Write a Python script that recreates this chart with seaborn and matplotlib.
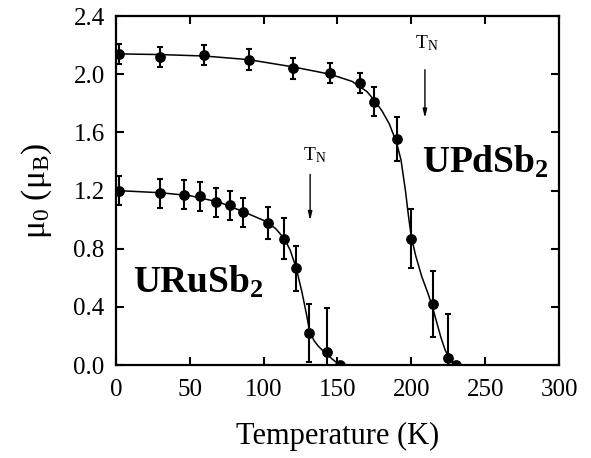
import matplotlib
matplotlib.use("Agg")
import matplotlib.pyplot as plt
import seaborn as sns

# ---- data ----
uru_T = [2, 30, 46, 57, 68, 77, 86, 103, 114, 122, 131, 143, 152]
uru_mu = [1.20, 1.18, 1.17, 1.16, 1.12, 1.10, 1.05, 0.98, 0.87, 0.665, 0.22, 0.09, 0.0]
uru_err = [0.10, 0.10, 0.10, 0.10, 0.10, 0.10, 0.10, 0.11, 0.14, 0.155, 0.20, 0.30, 0.0]

upd_T = [2, 30, 60, 90, 120, 145, 165, 175, 190, 200, 215, 225, 230]
upd_mu = [2.14, 2.12, 2.13, 2.10, 2.04, 2.01, 1.94, 1.81, 1.555, 0.87, 0.42, 0.05, 0.0]
upd_err = [0.07, 0.07, 0.07, 0.07, 0.07, 0.07, 0.07, 0.10, 0.15, 0.20, 0.23, 0.30, 0.0]

# fitted curves
uru_fit_T = [0, 30, 50, 70, 85, 100, 108, 114, 118, 122, 126, 129, 131, 134, 137, 140, 143, 146, 149, 152]
uru_fit_mu = [1.20, 1.185, 1.165, 1.12, 1.06, 0.995, 0.94, 0.87, 0.79, 0.67, 0.50, 0.35, 0.24, 0.17, 0.13, 0.10, 0.075, 0.045, 0.02, 0.0]
upd_fit_T = [0, 30, 60, 90, 120, 145, 160, 170, 175, 180, 185, 190, 193, 196, 198, 200, 203, 207, 211, 214, 217, 220, 223, 226, 230]
upd_fit_mu = [2.14, 2.135, 2.125, 2.10, 2.05, 2.00, 1.95, 1.88, 1.82, 1.75, 1.66, 1.53, 1.41, 1.20, 1.03, 0.88, 0.75, 0.61, 0.50, 0.41, 0.30, 0.19, 0.10, 0.04, 0.0]

x_ticks = [0, 50, 100, 150, 200, 250, 300]
y_ticks = [0.0, 0.4, 0.8, 1.2, 1.6, 2.0, 2.4]

sns.set_style("ticks")
plt.rcParams["font.family"] = ["Liberation Serif", "DejaVu Serif"]
plt.rcParams["mathtext.fontset"] = "custom"
plt.rcParams["mathtext.rm"] = "Liberation Serif"
plt.rcParams["mathtext.it"] = "Liberation Serif:italic"
plt.rcParams["mathtext.bf"] = "Liberation Serif:bold"
for k in ["text.color", "axes.labelcolor", "xtick.color", "ytick.color", "axes.edgecolor"]:
    plt.rcParams[k] = "black"

fig = plt.figure(figsize=(5.91, 4.58), dpi=100)
ax = fig.add_axes([0.196, 0.203, 0.750, 0.762])

for fT, fmu in [(uru_fit_T, uru_fit_mu), (upd_fit_T, upd_fit_mu)]:
    sns.lineplot(x=fT, y=fmu, ax=ax, color="black", lw=1.1, sort=False)

for T, mu, err in [(uru_T, uru_mu, uru_err), (upd_T, upd_mu, upd_err)]:
    ax.errorbar(T, mu, yerr=err, fmt="none", ecolor="black", elinewidth=1.5,
                capsize=2.5, capthick=1.5)
    sns.scatterplot(x=T, y=mu, ax=ax, color="black", s=60, edgecolor="black",
                    linewidth=0, zorder=5)

ax.set_xlim(0, 300)
ax.set_ylim(0, 2.4)
ax.set_xticks(x_ticks)
ax.set_yticks(y_ticks)
ax.set_xticklabels([str(t) for t in x_ticks])
ax.set_yticklabels([f"{t:.1f}" for t in y_ticks])
ax.tick_params(direction="in", length=6, width=1.5, top=True, right=True,
               labelsize=18, pad=8, colors="black")
ax.tick_params(axis="x", pad=10)
for s in ax.spines.values():
    s.set_linewidth(1.6)
    s.set_visible(True)
    s.set_color("black")

ax.set_xlabel("Temperature (K)", fontsize=22, labelpad=15)
ax.set_ylabel(r"μ$_{\mathregular{0}}$ (μ$_{\mathregular{B}}$)", fontsize=24, labelpad=14)

ax.text(11.5, 0.495, r"$\mathbf{URuSb_2}$", fontsize=27, ha="left", va="baseline")
ax.text(207, 1.32, r"$\mathbf{UPdSb_2}$", fontsize=27, ha="left", va="baseline")

ax.text(126.5, 1.41, r"T$_{\mathregular{N}}$", fontsize=14, ha="left", va="baseline")
ax.text(202.4, 2.18, r"T$_{\mathregular{N}}$", fontsize=14, ha="left", va="baseline")
arrow = dict(arrowstyle="-|>,head_length=0.5,head_width=0.12", color="black", lw=1.0)
ax.annotate("", xy=(131.5, 0.975), xytext=(131.5, 1.33), arrowprops=arrow)
ax.annotate("", xy=(209.2, 1.68), xytext=(209.2, 2.05), arrowprops=arrow)

fig.savefig("out.png", dpi=100)
